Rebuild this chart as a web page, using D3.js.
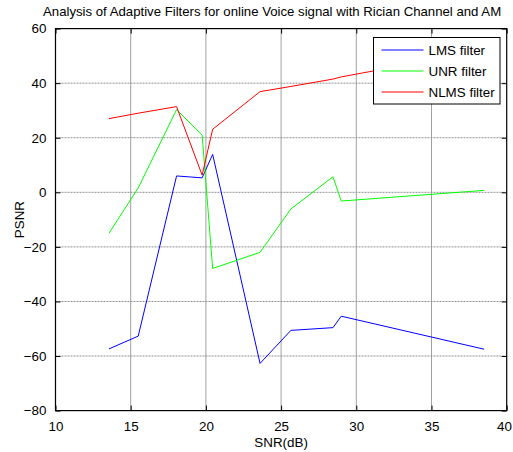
<!DOCTYPE html>
<html>
<head>
<meta charset="utf-8">
<script src="https://cdn.jsdelivr.net/npm/d3@7"></script>
<style>
  body { margin: 0; background: #fff; }
  svg { display: block; font-family: "Liberation Sans", Arial, sans-serif; }
</style>
</head>
<body>
<div id="chartarea"></div>
<script>
// values
const snr = [13.55, 15.5, 18.05, 19.75, 20.45, 23.6, 25.65, 28.45, 29.0, 38.5];
const lms = [-57.4, -52.7, 6.0, 5.3, 13.9, -62.7, -50.6, -49.6, -45.4, -57.5];
const unr = [-15.0, 1.6, 30.3, 21.0, -27.9, -22.0, -6.1, 5.7, -3.2, 0.7];
const nlms = [27.0, 29.0, 31.4, 6.3, 23.1, 36.9, 38.8, 41.5, 42.3, 52.0];
const seriesNames = ['LMS filter', 'UNR filter', 'NLMS filter'];
const seriesColors = ['#0000ff', '#00ff00', '#ff0000'];
const xTicks = [10, 15, 20, 25, 30, 35, 40];
const yTicks = [-80, -60, -40, -20, 0, 20, 40, 60];

const W = 513, H = 452;
const margin = { top: 28.6, right: 6.3, bottom: 41.4, left: 55.5 };
const width = W - margin.left - margin.right;
const height = H - margin.top - margin.bottom;

const svg = d3.select('#chartarea')
    .append('svg')
        .attr('width', W)
        .attr('height', H);

// title
svg.append('text')
    .attr('x', 43)
    .attr('y', 16)
    .attr('font-size', '13.2px')
    .text('Analysis of Adaptive Filters for online Voice signal with Rician Channel and AM');

const g = svg.append('g')
    .attr('transform', `translate(${margin.left}, ${margin.top})`);

const x = d3.scaleLinear().domain([10, 40]).range([0, width]);
const y = d3.scaleLinear().domain([-80, 60]).range([height, 0]);

// grid
g.append('g')
    .selectAll('line')
    .data(xTicks.slice(1, -1))
    .enter().append('line')
        .attr('x1', d => x(d)).attr('x2', d => x(d))
        .attr('y1', 0).attr('y2', height)
        .attr('stroke', '#a0a0a0')
        .attr('stroke-width', 1);
g.append('g')
    .selectAll('line')
    .data(yTicks.slice(1, -1))
    .enter().append('line')
        .attr('x1', 0).attr('x2', width)
        .attr('y1', d => y(d)).attr('y2', d => y(d))
        .attr('stroke', '#909090')
        .attr('stroke-width', 1)
        .attr('stroke-dasharray', '2,1');

// series
const series = [lms, unr, nlms];
const line = d3.line()
    .x((d, i) => x(snr[i]))
    .y(d => y(d));
series.forEach((vals, k) => {
    g.append('path')
        .datum(vals)
        .attr('fill', 'none')
        .attr('stroke', seriesColors[k])
        .attr('stroke-width', 1)
        .attr('d', line);
});

// axes, ticks pointing inward on all four sides
const tickStyle = sel => {
    sel.select('.domain').remove();
    sel.selectAll('.tick line').attr('stroke', '#000');
    sel.selectAll('.tick text').attr('fill', '#000').attr('font-size', '13.4px')
        .attr('font-family', '"Liberation Sans", Arial, sans-serif');
};
const xAxisG = g.append('g')
    .attr('transform', `translate(0, ${height})`)
    .call(d3.axisBottom(x).tickValues(xTicks).tickSize(-5).tickPadding(11))
    .call(tickStyle);
// keep the last label inside the window
xAxisG.selectAll('.tick text').filter(d => d === 40).attr('dx', '-0.2em');
g.append('g')
    .call(d3.axisTop(x).tickValues(xTicks).tickSize(-5).tickFormat(''))
    .call(tickStyle);
g.append('g')
    .call(d3.axisLeft(y).tickValues(yTicks).tickSize(-5).tickPadding(9))
    .call(tickStyle);
g.append('g')
    .attr('transform', `translate(${width}, 0)`)
    .call(d3.axisRight(y).tickValues(yTicks).tickSize(-5).tickFormat(''))
    .call(tickStyle);

g.append('rect')
    .attr('width', width)
    .attr('height', height)
    .attr('fill', 'none')
    .attr('stroke', '#000')
    .attr('stroke-width', 1.2);

// axis labels
g.append('text')
    .attr('x', width / 2)
    .attr('y', height + 36)
    .attr('text-anchor', 'middle')
    .attr('font-size', '13.4px')
    .text('SNR(dB)');
g.append('text')
    .attr('transform', 'rotate(-90)')
    .attr('x', -height / 2)
    .attr('y', -32)
    .attr('text-anchor', 'middle')
    .attr('font-size', '13.4px')
    .text('PSNR');

// legend
const legend = svg.append('g').attr('transform', 'translate(373.5, 37.5)');
legend.append('rect')
    .attr('width', 126.5)
    .attr('height', 66.5)
    .attr('fill', '#fff')
    .attr('stroke', '#000')
    .attr('stroke-width', 1);
seriesNames.forEach((name, k) => {
    const ly = 12.5 + k * 21;
    legend.append('line')
        .attr('x1', 8).attr('x2', 50)
        .attr('y1', ly).attr('y2', ly)
        .attr('stroke', seriesColors[k])
        .attr('stroke-width', 1);
    legend.append('text')
        .attr('x', 55)
        .attr('y', ly + 4.5)
        .attr('font-size', '13.4px')
        .text(name);
});
</script>
</body>
</html>
